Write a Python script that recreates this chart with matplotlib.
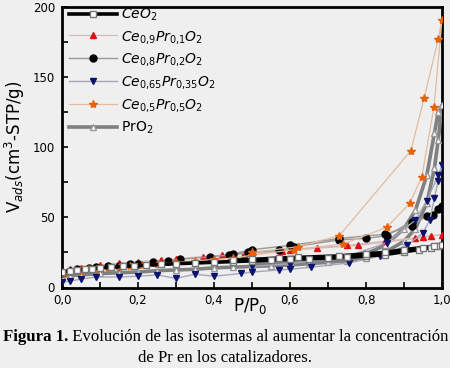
import matplotlib
matplotlib.use("Agg")
import matplotlib.pyplot as plt
from matplotlib.ticker import MultipleLocator, FuncFormatter

# ---- data (adsorption branch followed by desorption branch) ----
ceo2_x = [0.0, 0.02, 0.04, 0.06, 0.08, 0.10, 0.13, 0.16, 0.19, 0.22, 0.26, 0.30, 0.35, 0.40, 0.45,
          0.50, 0.55, 0.60, 0.65, 0.70, 0.75, 0.80, 0.85, 0.90, 0.94, 0.97, 0.99, 1.0,
          0.98, 0.95, 0.90, 0.85, 0.80, 0.73, 0.62, 0.57, 0.50, 0.45]
ceo2_y = [11, 12, 12.5, 13, 13.5, 14, 14.5, 15, 15.5, 16, 16.5, 17, 17.5, 18, 18.5,
          19, 19.5, 20, 20.5, 21, 21.5, 22.5, 23.5, 25.5, 27, 28.5, 29.5, 30,
          29.5, 28.5, 27, 25, 24, 22.5, 21.5, 21, 20, 19.5]

pr10_x = [0.0, 0.02, 0.05, 0.10, 0.15, 0.20, 0.26, 0.30, 0.37, 0.42, 0.48, 0.58, 0.67, 0.78, 0.93, 0.97, 1.0,
          0.95, 0.85, 0.75, 0.60, 0.50]
pr10_y = [12, 13, 14, 16, 17.5, 18.5, 19.5, 20.5, 22, 23, 24, 26, 28, 30, 35, 37, 37.5,
          36, 33, 30, 27, 25]

pr20_x = [0.0, 0.02, 0.04, 0.07, 0.09, 0.12, 0.15, 0.18, 0.20, 0.24, 0.28, 0.31, 0.39, 0.44, 0.49, 0.57,
          0.61, 0.73, 0.80, 0.855, 0.92, 0.975, 1.0,
          0.99, 0.96, 0.92, 0.85, 0.73, 0.60, 0.50, 0.45]
pr20_y = [10.5, 12, 13, 14, 14.5, 15, 15.5, 16.5, 17, 18, 19, 20, 22, 23, 25, 26.5,
          29, 34, 35, 37, 47, 52, 58,
          56, 51, 44, 38, 35, 30, 27, 24]

pr35_x = [0.0, 0.02, 0.05, 0.09, 0.15, 0.20, 0.25, 0.30, 0.35, 0.40, 0.47, 0.50, 0.57, 0.60, 0.655,
          0.755, 0.837, 0.908, 0.95, 0.968, 0.98, 0.99, 1.0,
          0.99, 0.96, 0.93, 0.855, 0.75, 0.60, 0.50]
pr35_y = [4, 4.5, 6, 7.5, 7.5, 8, 9, 6.5, 9.5, 8, 10, 11, 12.5, 13, 14.5,
          17.5, 22.5, 30, 39, 48, 64, 76, 87,
          80, 62, 48, 32, 22, 17, 15]

pr50_x = [0.0, 0.02, 0.05, 0.07, 0.09, 0.12, 0.15, 0.18, 0.21, 0.25, 0.30, 0.35, 0.40, 0.45, 0.50,
          0.61, 0.74, 0.855, 0.915, 0.947, 0.979, 1.0,
          0.99, 0.953, 0.918, 0.73, 0.62, 0.50]
pr50_y = [10, 11, 12, 13, 13.5, 14, 14.5, 15, 16, 17, 18, 19, 20, 21, 23,
          27, 31, 43, 60, 79, 129, 191,
          177, 135, 97.5, 37, 29, 25]

pro2_x = [0.0, 0.02, 0.05, 0.10, 0.15, 0.20, 0.25, 0.30, 0.35, 0.40, 0.45, 0.50, 0.55, 0.60, 0.65,
          0.70, 0.75, 0.80, 0.85, 0.90, 0.93, 0.96, 0.98, 0.99, 1.0,
          0.99, 0.98, 0.96, 0.93, 0.90, 0.85, 0.80, 0.70, 0.60, 0.50]
pro2_y = [8, 8.5, 9, 10, 10.5, 11, 12, 12.5, 13, 14, 14.5, 15, 15.5, 16, 17,
          18, 19, 21, 25, 33, 42, 60, 85, 105, 130,
          125, 110, 80, 55, 42, 30, 24, 20, 18, 17]

labels = [r'$CeO_2$', r'$Ce_{0{,}9}Pr_{0{,}1}O_2$', r'$Ce_{0{,}8}Pr_{0{,}2}O_2$',
          r'$Ce_{0{,}65}Pr_{0{,}35}O_2$', r'$Ce_{0{,}5}Pr_{0{,}5}O_2$', r'$\mathrm{PrO_2}$']
xticks = [0.0, 0.2, 0.4, 0.6, 0.8, 1.0]
yticks = [0, 50, 100, 150, 200]

bg = '#efefef'
fig = plt.figure(figsize=(4.5, 3.68), dpi=100, facecolor=bg)
ax = fig.add_axes([62/450, 1-287.5/368, 380/450, 280.5/368], facecolor=bg)

series = [
    (ceo2_x, ceo2_y, dict(color='black', lw=2.6, marker='s', mfc='white', mec='#777777', ms=4.5, zorder=5)),
    (pr10_x, pr10_y, dict(color='#d9b9b9', lw=0.9, marker='^', mfc='#dd1111', mec='#dd1111', ms=5, zorder=4)),
    (pr20_x, pr20_y, dict(color='#999999', lw=1.0, marker='o', mfc='black', mec='black', ms=5, zorder=4)),
    (pr35_x, pr35_y, dict(color='#a6a6b8', lw=1.0, marker='v', mfc='#0a1470', mec='#0a1470', ms=5, zorder=4)),
    (pr50_x, pr50_y, dict(color='#e2bca0', lw=0.9, marker='*', mfc='#e8620c', mec='#e8620c', ms=6, zorder=4)),
    (pro2_x, pro2_y, dict(color='#808080', lw=2.6, marker='^', mfc='white', mec='#999999', ms=5, zorder=3)),
]
for (x, y, kw), lab in zip(series, labels):
    ax.plot(x, y, label=lab, **kw)

ax.set_xlim(0, 1.0)
ax.set_ylim(0, 200)
ax.set_xticks(xticks)
ax.set_yticks(yticks)
ax.xaxis.set_minor_locator(MultipleLocator(0.1))
ax.yaxis.set_minor_locator(MultipleLocator(25))
ax.xaxis.set_major_formatter(FuncFormatter(lambda v, p: f'{v:.1f}'.replace('.', ',')))
ax.tick_params(which='both', direction='in', length=4.5, width=1.2, top=False, right=False,
               labelsize=8.5, pad=5)
for s in ax.spines.values():
    s.set_linewidth(2.0)

leg = ax.legend(loc='upper left', frameon=False, fontsize=10, handlelength=3.4,
                labelspacing=0.42, borderaxespad=0.0, handletextpad=0.3,
                bbox_to_anchor=(0.005, 1.022))

ax.set_ylabel(r'V$_{ads}$(cm$^3$-STP/g)', fontsize=12, labelpad=4)
fig.text(250/450, 1-306/368, r'P/P$_0$', fontsize=12, ha='center', va='center')

serif = 'Liberation Serif'
fs = 12.1
t1 = fig.text(3/450, 1-345/368, 'Figura 1.', fontsize=fs, family=serif, weight='bold',
              ha='left', va='bottom')
ax.annotate(' Evolución de las isotermas al aumentar la concentración', xy=(1, 0),
            xycoords=t1, fontsize=fs, family=serif, ha='left', va='bottom',
            annotation_clip=False)
fig.text(0.5, 1-366/368, 'de Pr en los catalizadores.', fontsize=fs, family=serif,
         ha='center', va='bottom')

fig.savefig('out.png', dpi=100, facecolor=bg)
